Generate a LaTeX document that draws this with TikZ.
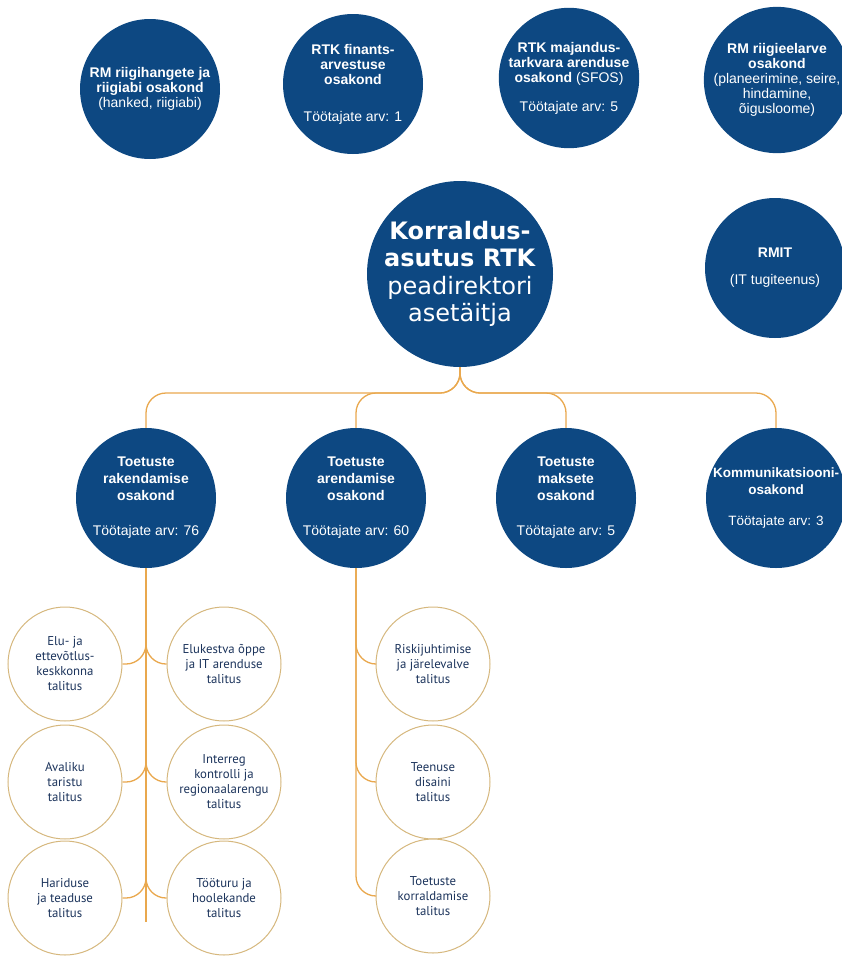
\documentclass[tikz,border=0pt]{standalone}
\usepackage{fontspec}
\setmainfont{Liberation Sans}
\newfontfamily\juhtfont{DejaVu Sans}
\newfontfamily\talitusfont{PT Sans}
\definecolor{rtkblue}{RGB}{13,72,130}
\definecolor{linkorange}{RGB}{233,168,78}
\definecolor{ringtan}{RGB}{214,184,126}
\definecolor{talitustext}{RGB}{28,52,92}
\tikzset{
  osakond/.style={circle, fill=rtkblue, text=white, inner sep=0pt, minimum size=140pt,
    align=center, font=\fontsize{14}{17}\selectfont},
  ylem/.style={osakond, font=\fontsize{14}{15}\selectfont},
  juht/.style={osakond, minimum size=186pt, font=\juhtfont\fontsize{24}{27.5}\selectfont},
  talitus/.style={circle, draw=ringtan, line width=1pt, fill=white, inner sep=0pt,
    minimum size=114pt, align=center, text=talitustext,
    font=\talitusfont\fontsize{12.8}{15}\selectfont},
  link/.style={draw=linkorange, line width=1.3pt, rounded corners=20pt}
}
\begin{document}
\begin{tikzpicture}[x=1pt, y=-1pt]
  \useasboundingbox (0,0) rectangle (841,956);

  % Ülemine rida
  \node[ylem] (hanked) at (150,89) {\textbf{RM riigihangete ja}\\\textbf{riigiabi osakond}\\(hanked, riigiabi)};
  \node[ylem] (finants) at (353,84) {\textbf{RTK finants-}\\\textbf{arvestuse}\\\textbf{osakond}\\[22pt]Töötajate arv: 1};
  \node[ylem] (sfos) at (569,78) {\textbf{RTK majandus-}\\\textbf{tarkvara arenduse}\\\textbf{osakond} (SFOS)\\[14pt]Töötajate arv: 5};
  \node[ylem] (eelarve) at (777,80) {\textbf{RM riigieelarve}\\\textbf{osakond}\\(planeerimine, seire,\\hindamine,\\õigusloome)};

  % Peadirektori asetäitja ja RMIT
  \node[juht] (juht) at (460,274) {\textbf{Korraldus-}\\\textbf{asutus RTK}\\peadirektori\\asetäitja};
  \node[ylem] (rmit) at (775,268) {\textbf{RMIT}\\[12pt](IT tugiteenus)};

  % Osakonnad
  \node[osakond] (rakend) at (146,498) {\textbf{Toetuste}\\\textbf{rakendamise}\\\textbf{osakond}\\[18pt]Töötajate arv: 76};
  \node[osakond] (arend) at (356,498) {\textbf{Toetuste}\\\textbf{arendamise}\\\textbf{osakond}\\[18pt]Töötajate arv: 60};
  \node[osakond] (makse) at (566,498) {\textbf{Toetuste}\\\textbf{maksete}\\\textbf{osakond}\\[18pt]Töötajate arv: 5};
  \node[osakond, font=\fontsize{13.5}{17}\selectfont] (kommu) at (776,498) {\textbf{Kommunikatsiooni-}\\\textbf{osakond}\\[14pt]Töötajate arv: 3};

  % Talitused
  \node[talitus] (elu) at (65,664) {Elu- ja\\ettevõtlus-\\keskkonna\\talitus};
  \node[talitus] (elukestva) at (224,664) {Elukestva õppe\\ja IT arenduse\\talitus};
  \node[talitus] (avaliku) at (65,782) {Avaliku\\taristu\\talitus};
  \node[talitus] (interreg) at (224,782) {Interreg\\kontrolli ja\\regionaalarengu\\talitus};
  \node[talitus] (haridus) at (65,898) {Hariduse\\ja teaduse\\talitus};
  \node[talitus] (tooturu) at (224,898) {Tööturu ja\\hoolekande\\talitus};
  \node[talitus] (risk) at (433,664) {Riskijuhtimise\\ja järelevalve\\talitus};
  \node[talitus] (teenus) at (433,782) {Teenuse\\disaini\\talitus};
  \node[talitus] (korraldus) at (433,896) {Toetuste\\korraldamise\\talitus};

  % Ühendused
  \coordinate (bus) at (0,393);
  \coordinate (rakendlopp) at (146,922);
  \foreach \osa in {rakend,arend,makse,kommu}
    \draw[link] (juht.south) -- (juht.south |- bus) -| (\osa.north);
  \draw[link] (rakend.south) -- (rakendlopp);
  \foreach \tal in {elu,avaliku,haridus}
    \draw[link] (rakend.south) |- (\tal.east);
  \foreach \tal in {elukestva,interreg,tooturu}
    \draw[link] (rakend.south) |- (\tal.west);
  \foreach \tal in {risk,teenus,korraldus}
    \draw[link] (arend.south) |- (\tal.west);
\end{tikzpicture}
\end{document}
